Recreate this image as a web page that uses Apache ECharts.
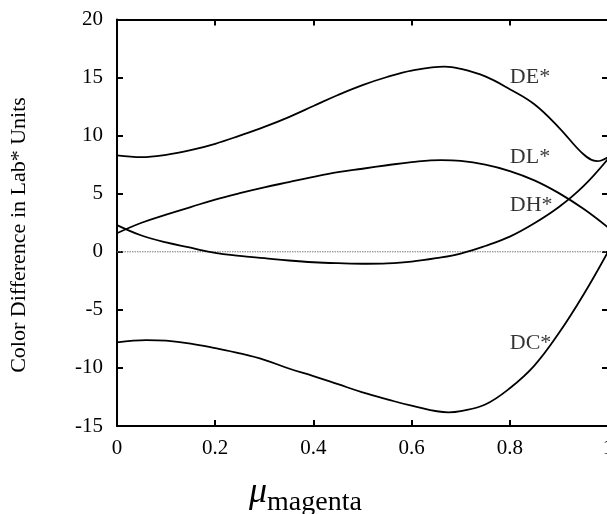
<!DOCTYPE html>
<html>
<head>
<meta charset="utf-8">
<script src="https://cdn.jsdelivr.net/npm/echarts@6/dist/echarts.min.js"></script>
<style>html,body{margin:0;padding:0;background:#fff;}#c{width:607px;height:514px;}</style>
</head>
<body>
<div id="c"></div>
<script>
var xTicks = [0, 0.2, 0.4, 0.6, 0.8, 1];
var yTicks = [-15, -10, -5, 0, 5, 10, 15, 20];

var deX = [0, 0.05, 0.1, 0.15, 0.2, 0.25, 0.3, 0.35, 0.4, 0.45, 0.5, 0.55, 0.6, 0.667, 0.7, 0.75, 0.8, 0.85, 0.9, 0.95, 0.978, 1.0];
var deY = [8.3, 8.15, 8.35, 8.75, 9.3, 10.0, 10.75, 11.6, 12.55, 13.5, 14.35, 15.05, 15.6, 15.95, 15.75, 15.1, 14.0, 12.7, 10.7, 8.4, 7.8, 8.15];
var dlX = [0, 0.05, 0.1, 0.15, 0.2, 0.25, 0.3, 0.35, 0.4, 0.45, 0.5, 0.55, 0.6, 0.66, 0.7, 0.75, 0.8, 0.85, 0.9, 0.95, 1.0];
var dlY = [1.6, 2.5, 3.2, 3.85, 4.5, 5.05, 5.55, 6.0, 6.45, 6.85, 7.15, 7.45, 7.72, 7.9, 7.83, 7.5, 6.95, 6.15, 5.05, 3.7, 2.1];
var dhX = [0, 0.05, 0.1, 0.15, 0.2, 0.25, 0.3, 0.35, 0.4, 0.45, 0.51, 0.55, 0.6, 0.65, 0.7, 0.75, 0.8, 0.85, 0.9, 0.95, 1.0];
var dhY = [2.3, 1.4, 0.8, 0.35, -0.1, -0.35, -0.55, -0.75, -0.9, -0.98, -1.03, -1.0, -0.85, -0.55, -0.15, 0.5, 1.3, 2.45, 3.85, 5.65, 8.0];
var dcX = [0, 0.06, 0.1, 0.15, 0.2, 0.25, 0.3, 0.35, 0.4, 0.45, 0.5, 0.55, 0.6, 0.675, 0.7, 0.75, 0.8, 0.85, 0.9, 0.95, 1.0];
var dcY = [-7.8, -7.6, -7.65, -7.9, -8.3, -8.75, -9.3, -10.05, -10.7, -11.4, -12.1, -12.7, -13.25, -13.82, -13.72, -13.15, -11.75, -9.8, -7.0, -3.7, 0.0];

var labelNames = ['DE*', 'DL*', 'DH*', 'DC*'];
var labelX = [0.8, 0.8, 0.8, 0.8];
var labelY = [15.0, 8.1, 4.0, -7.9];

function pairs(xs, ys) { return xs.map(function (x, i) { return [x, ys[i]]; }); }

var FONT = '"Liberation Serif", "Times New Roman", serif';
var lineStyle = { color: '#000', width: 1.8 };

function curve(name, data) {
  return {
    name: name, type: 'line', data: data, smooth: 0.4, symbol: 'none',
    lineStyle: lineStyle, silent: true, clip: true, z: 3
  };
}

var axisLineStyle = { color: '#000', width: 2 };
var tickStyle = { show: true, inside: true, length: 6, lineStyle: { color: '#000', width: 2 } };

var chart = echarts.init(document.getElementById('c'), null, { renderer: 'canvas' });
chart.setOption({
  animation: false,
  backgroundColor: '#fff',
  grid: { left: 117, top: 19.5, width: 491, bottom: 88, containLabel: false, outerBoundsMode: 'none' },
  xAxis: [{
    type: 'value', min: 0, max: 1, interval: 0.2, position: 'bottom',
    axisLine: { show: true, onZero: false, lineStyle: axisLineStyle },
    axisTick: tickStyle,
    axisLabel: { show: true, margin: 12, color: '#000', fontFamily: FONT, fontSize: 21,
      showMinLabel: true, showMaxLabel: true, hideOverlap: false,
      formatter: function (v) { return String(+v.toFixed(1)); } },
    splitLine: { show: false }
  }, {
    type: 'value', min: 0, max: 1, interval: 0.2, position: 'top',
    axisLine: { show: true, onZero: false, lineStyle: axisLineStyle },
    axisTick: tickStyle,
    axisLabel: { show: false }, splitLine: { show: false }
  }],
  yAxis: [{
    type: 'value', min: -15, max: 20, interval: 5, position: 'left',
    axisLine: { show: true, onZero: false, lineStyle: axisLineStyle },
    axisTick: tickStyle,
    axisLabel: { show: true, margin: 14, color: '#000', fontFamily: FONT, fontSize: 21 },
    splitLine: { show: false }
  }, {
    type: 'value', min: -15, max: 20, interval: 5, position: 'right',
    axisLine: { show: true, onZero: false, lineStyle: axisLineStyle },
    axisTick: tickStyle,
    axisLabel: { show: false }, splitLine: { show: false }
  }],
  graphic: [{
    type: 'text', x: 8, y: 235, rotation: Math.PI / 2, silent: true,
    style: { text: 'Color Difference in Lab* Units', fill: '#000', font: '22px ' + FONT,
      align: 'center', verticalAlign: 'top' }
  }, {
    type: 'text', left: 249, top: 475, silent: true,
    style: {
      text: '{mu|μ}{sub|magenta}', fill: '#000',
      rich: {
        mu: { fontFamily: FONT, fontStyle: 'italic', fontSize: 36, fill: '#000', verticalAlign: 'bottom' },
        sub: { fontFamily: FONT, fontSize: 28, fill: '#000', padding: [0, 0, -6, 0], verticalAlign: 'bottom' }
      }
    }
  }],
  series: [
    {
      name: 'zero', type: 'line', data: [[0, 0], [1, 0]], symbol: 'none', silent: true,
      lineStyle: { color: '#777', width: 1, type: [1.5, 1] }, z: 2
    },
    curve('DE*', pairs(deX, deY)),
    curve('DL*', pairs(dlX, dlY)),
    curve('DH*', pairs(dhX, dhY)),
    curve('DC*', pairs(dcX, dcY)),
    {
      name: 'labels', type: 'scatter', symbolSize: 0, silent: true,
      data: labelNames.map(function (n, i) { return [labelX[i], labelY[i], n]; }),
      label: { show: true, position: 'right', distance: 0, color: '#000', fontFamily: FONT, fontSize: 22,
        formatter: function (p) { return p.value[2]; } },
      z: 4
    }
  ]
});
</script>
</body>
</html>
